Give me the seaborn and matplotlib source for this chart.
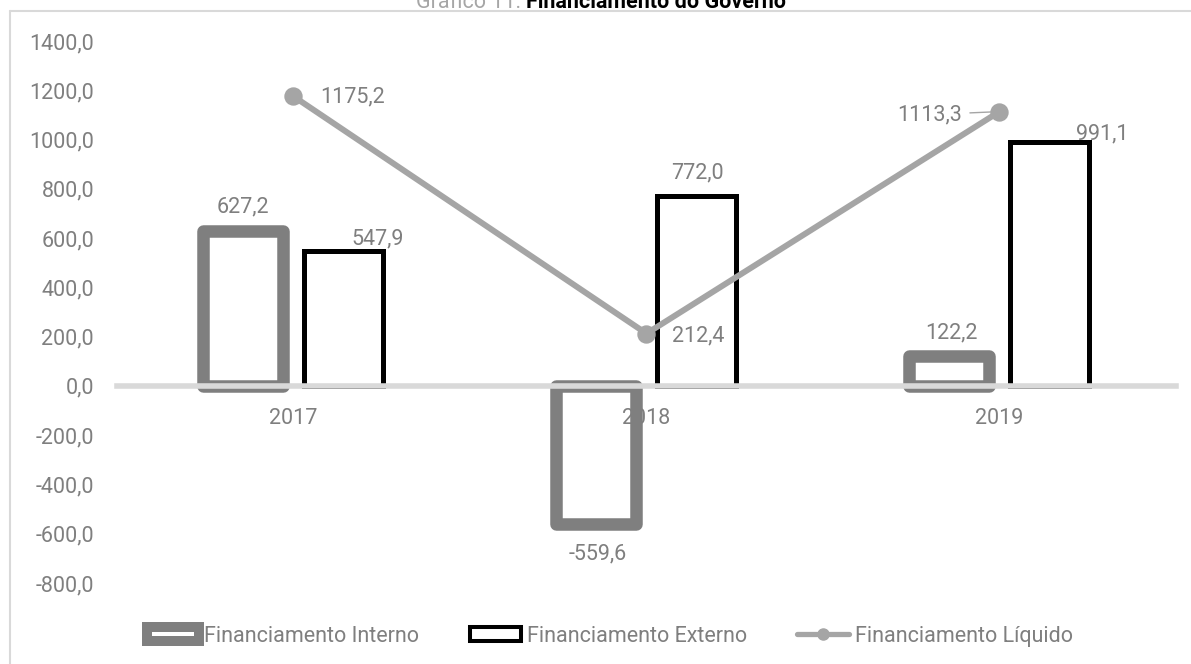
import numpy as np
import pandas as pd
import matplotlib
matplotlib.use("Agg")
import matplotlib.pyplot as plt
import seaborn as sns
from matplotlib.lines import Line2D
from matplotlib.patches import Patch
from matplotlib.ticker import FuncFormatter, FixedLocator

# data
anos = ["2017", "2018", "2019"]
series = ["Financiamento Interno", "Financiamento Externo"]
interno = [627.2, -559.6, 122.2]
externo = [547.9, 772.0, 991.1]
liquido = [1175.2, 212.4, 1113.3]
yticks = [-800, -600, -400, -200, 0, 200, 400, 600, 800, 1000, 1200, 1400]

sns.set_style("white")
plt.rcParams["font.family"] = ["Roboto", "DejaVu Sans"]

CINZA = "#7F7F7F"
CINZA_LINHA = "#A5A5A5"
EIXO = "#D9D9D9"
TXT = "#7F7F7F"
FS = 15.5

df = pd.DataFrame({
    "Ano": anos * 2,
    "Serie": [series[0]] * 3 + [series[1]] * 3,
    "Valor": interno + externo,
})

fig = plt.figure(figsize=(11.91, 6.64), dpi=100)
ax = fig.add_axes([0.0982, 0.122, 0.8892, 0.8163])

sns.barplot(data=df, x="Ano", y="Valor", hue="Serie", hue_order=series,
            palette={series[0]: CINZA, series[1]: "black"}, fill=False,
            width=0.572, gap=0.217, errorbar=None, legend=False, ax=ax)

lws = [9.0, 3.6]
for cont, lw in zip(ax.containers, lws):
    for p in cont:
        p.set_linewidth(lw)
        p.set_joinstyle("round" if lw > 5 else "miter")

sns.pointplot(x=anos, y=liquido, color=CINZA_LINHA, markers="o", linestyles="-",
              errorbar=None, ax=ax, linewidth=4.3, markersize=10)

ax.set_xlim(-0.5, 2.5)
ax.set_ylim(-800, 1400)
ax.set_xlabel("")
ax.set_ylabel("")

for s in ["top", "right", "left"]:
    ax.spines[s].set_visible(False)
ax.spines["bottom"].set_position(("data", 0))
ax.spines["bottom"].set_color(EIXO)
ax.spines["bottom"].set_linewidth(4)

ax.yaxis.set_major_locator(FixedLocator(yticks))
ax.yaxis.set_major_formatter(FuncFormatter(lambda v, p: f"{v:.1f}".replace(".", ",")))
ax.tick_params(axis="y", length=0, pad=16.5, labelsize=FS, labelcolor=TXT)
ax.tick_params(axis="x", which="major", length=0, pad=16, labelsize=FS, labelcolor=TXT)
ax.set_xticks([-0.5, 0.5, 1.5, 2.5], minor=True)
ax.tick_params(axis="x", which="minor", length=6, width=2.5, color=EIXO, direction="out")

# data labels
def rotulo(x, y, txt, dx, dy, ha="center"):
    ax.annotate(txt, xy=(x, y), xytext=(dx * 0.72, dy * 0.72), textcoords="offset points",
                ha=ha, va="center", fontsize=FS, color=TXT)

fmt = lambda v: f"{v:.1f}".replace(".", ",")
off_int = [(0, 24), (2, -30), (2, 23)]
off_ext = [(34, 12), (0, 23), (52, 8)]
for cont, vals, offs in zip(ax.containers, [interno, externo], [off_int, off_ext]):
    for p, v, (dx, dy) in zip(cont, vals, offs):
        rotulo(p.get_x() + p.get_width() / 2, v, fmt(v), dx, dy)

rotulo(0, liquido[0], fmt(liquido[0]), 27, -1, ha="left")
rotulo(1, liquido[1], fmt(liquido[1]), 26, -2, ha="left")
ax.annotate(fmt(liquido[2]), xy=(2, liquido[2]), xytext=(-37 * 0.72, -3 * 0.72),
            textcoords="offset points", ha="right", va="center", fontsize=FS, color=TXT,
            arrowprops=dict(arrowstyle="-", color=CINZA_LINHA, lw=1, shrinkA=3, shrinkB=0))

# legend
handles = [
    Patch(facecolor="white", edgecolor=CINZA, linewidth=7.2, joinstyle="round"),
    Patch(facecolor="white", edgecolor="black", linewidth=2.9),
    Line2D([], [], color=CINZA_LINHA, lw=3.8, marker="o", markersize=8),
]
fig.legend(handles, ["Financiamento Interno", "Financiamento Externo", "Financiamento Líquido"],
           loc="center", bbox_to_anchor=(0.512, 0.042), ncol=3, frameon=False,
           fontsize=FS, labelcolor=TXT, handlelength=2.4, handleheight=0.58,
           handletextpad=0.25, columnspacing=2.35)

# chart frame and title
fig.add_artist(Line2D([10 / 1191, 1.0], [1 - 11 / 664] * 2, color=EIXO, lw=1.5))
fig.add_artist(Line2D([10 / 1191] * 2, [0, 1 - 11 / 664], color=EIXO, lw=1.5))
fig.text(526 / 1191, 1 - 8 / 664, "Gráfico 11: ", ha="right", va="baseline",
         fontsize=FS, color="#A6A6A6")
fig.text(526 / 1191, 1 - 8 / 664, "Financiamento do Governo", ha="left", va="baseline",
         fontsize=FS, color="black", fontweight="bold")

fig.savefig("out.png", dpi=100)
